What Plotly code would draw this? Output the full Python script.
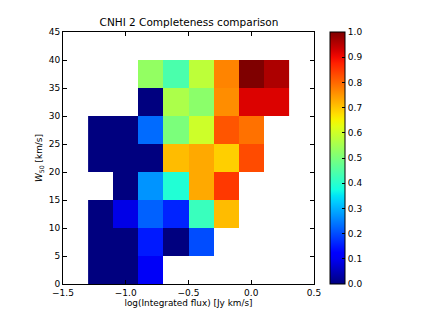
import numpy as np
import plotly.graph_objects as go

x_centers = [-1.2, -1.0, -0.8, -0.6, -0.4, -0.2, 0.0, 0.2]
y_centers = [2.5, 7.5, 12.5, 17.5, 22.5, 27.5, 32.5, 37.5]
N = None
completeness = [
    [0.0, 0.0, 0.11, N, N, N, N, N],
    [0.0, 0.0, 0.15, 0.0, 0.20, N, N, N],
    [0.0, 0.09, 0.22, 0.16, 0.42, 0.71, N, N],
    [N, 0.0, 0.27, 0.39, 0.73, 0.85, N, N],
    [0.0, 0.0, 0.0, 0.71, 0.73, 0.69, 0.83, N],
    [0.0, 0.0, 0.23, 0.50, 0.60, 0.82, 0.79, N],
    [N, N, 0.0, 0.56, 0.52, 0.76, 0.92, 0.92],
    [N, N, 0.53, 0.44, 0.58, 0.77, 1.0, 0.96],
]

# matplotlib "jet" colormap
r_pts = ([0, 0.35, 0.66, 0.89, 1], [0, 0, 1, 1, 0.5])
g_pts = ([0, 0.125, 0.375, 0.64, 0.91, 1], [0, 0, 1, 1, 0, 0])
b_pts = ([0, 0.11, 0.34, 0.65, 1], [0.5, 1, 1, 0, 0])
ss = np.linspace(0, 1, 41)
jet = []
for s in ss:
    r = np.interp(s, *r_pts); g = np.interp(s, *g_pts); b = np.interp(s, *b_pts)
    jet.append([float(s), f"rgb({int(r*255)},{int(g*255)},{int(b*255)})"])

font = "DejaVu Sans"
OFF = 8  # browser default body margin
W, H = 421 - OFF, 316 - OFF
L, R, T, B = 63 - OFF, 314 - OFF, 32 - OFF, 284 - OFF
pw = R - L
fig = go.Figure(go.Heatmap(
    x=x_centers, y=y_centers, z=completeness,
    colorscale=jet, zmin=0, zmax=1, xgap=0, ygap=0,
    colorbar=dict(
        thickness=15, len=1, lenmode="fraction", y=0.5, yanchor="middle",
        x=(330 - 63) / pw, xanchor="left", xpad=0, ypad=0,
        outlinewidth=1, outlinecolor="black",
        tickvals=[round(0.1*i, 1) for i in range(11)], tickformat=".1f",
        ticks="inside", ticklen=3, tickcolor="black",
        tickfont=dict(family=font, size=9, color="black"),
    ),
))

fig.update_layout(
    width=W, height=H,
    margin=dict(l=L, r=W - R, t=T, b=H - B, autoexpand=False),
    paper_bgcolor="white", plot_bgcolor="white",
    title=dict(text="CNHI 2 Completeness comparison", x=(100 + 278) / 2 / 421 - OFF / W * 0, xanchor="center",
               y=1 - (22 - OFF) / H, yanchor="middle",
               font=dict(family=font, size=10.5, color="black")),
    font=dict(family=font, size=9, color="black"),
)
fig.update_layout(title_x=((100 + 278) / 2 - OFF) / W)
fig.update_xaxes(
    range=[-1.5, 0.5], tickvals=[-1.5, -1.0, -0.5, 0.0, 0.5], tickformat=".1f",
    ticks="inside", ticklen=4, tickcolor="black", mirror="ticks", automargin=False,
    showline=True, linecolor="black", linewidth=1, showgrid=False, zeroline=False,
    title=dict(text="log(Integrated flux) [Jy km/s]", standoff=2, font=dict(family=font, size=8.9)),
)
fig.update_yaxes(
    range=[0, 45], tickvals=list(range(0, 50, 5)),
    ticks="inside", ticklen=4, tickcolor="black", mirror="ticks", automargin=False,
    showline=True, linecolor="black", linewidth=1, showgrid=False, zeroline=False,
    title=dict(text="<i>W</i><sub>50</sub> [km/s]", standoff=4, font=dict(family=font, size=8.9)),
)

fig.write_html("out.html")
